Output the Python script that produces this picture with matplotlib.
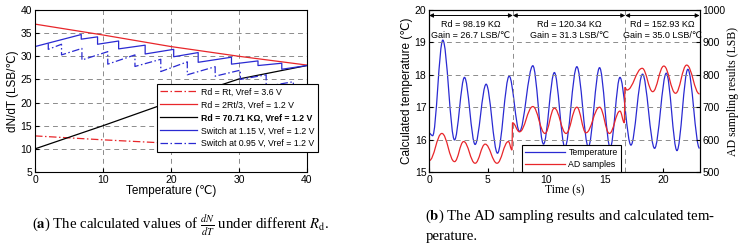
import matplotlib
matplotlib.use('Agg')
import matplotlib.pyplot as plt
from matplotlib.path import Path
from matplotlib.patches import PathPatch
from matplotlib.lines import Line2D

plt.rcParams['font.family'] = ['Liberation Sans', 'DejaVu Sans']
plt.rcParams['mathtext.fontset'] = 'stix'

# ---- (a) dN/dT under different Rd ----
temp_pts = [0, 10, 20, 30, 40]
rd_rt_36 = [12.8, 11.95, 11.2, 10.5, 9.9]
rd_2rt3 = [36.95, 34.6, 32.1, 30.0, 28.1]
rd_7071 = [10.0, 15.0, 20.2, 25.1, 28.0]

sw115_x = [0, 6.8, 6.8, 9.2, 9.2, 12.3, 12.3, 16.2, 16.2, 20.4, 20.4, 24.0, 24.0,
           28.9, 28.9, 32.8, 32.8, 36.3, 36.3, 40]
sw115_y = [32.1, 34.7, 33.7, 34.2, 32.6, 33.3, 31.6, 32.4, 30.5, 31.5, 29.9, 30.8, 28.7,
           29.8, 28.3, 29.0, 28.0, 28.5, 27.2, 28.0]

sw095_x = [1.95, 1.95, 3.9, 3.9, 6.9, 6.9, 10.7, 10.7, 14.7, 14.7, 18.5, 18.5, 22.4, 22.4,
           26.5, 26.5, 30.2, 30.2, 34.0, 34.0, 38.0, 38.0, 40]
sw095_y = [32.8, 31.5, 32.6, 30.3, 31.7, 29.2, 31.0, 28.3, 30.3, 27.8, 29.35, 26.7, 28.8, 26.0,
           27.75, 25.7, 27.0, 25.0, 26.0, 23.5, 24.5, 22.5, 23.0]

legend_a = ['Rd = Rt, Vref = 3.6 V', 'Rd = 2Rt/3, Vref = 1.2 V', 'Rd = 70.71 K\u03a9, Vref = 1.2 V',
            'Switch at 1.15 V, Vref = 1.2 V', 'Switch at 0.95 V, Vref = 1.2 V']

# ---- (b) AD sampling results and calculated temperature ----
t_temp = [0.0, 0.3, 1.17, 2.17, 3.02, 3.93, 4.87, 5.84, 6.84, 7.72, 8.86, 9.77, 10.7, 11.6,
          12.62, 13.6, 14.56, 15.47, 16.3, 17.24, 18.23, 19.26, 20.26, 21.17, 22.1, 23.1]
calc_temp = [16.2, 16.12, 19.07, 15.99, 17.92, 15.85, 17.71, 15.58, 17.96, 16.25, 18.28, 15.86,
             18.07, 15.76, 18.25, 15.78, 18.22, 15.75, 17.92, 15.83, 18.02, 15.73, 18.05, 15.66,
             18.17, 15.73]

t_ad = [0.0, 1.09, 2.17, 2.95, 3.93, 4.79, 5.8, 6.77, 7.08, 7.12, 7.72, 8.86, 9.9, 10.7, 11.7,
        12.62, 13.4, 14.56, 15.4, 16.3, 16.68, 16.72, 16.9, 18.2, 19.1, 20.05, 21.05, 22.0, 23.1]
ad_samples = [535, 619, 532, 594, 527, 586, 527, 594, 568, 652, 624, 702, 619, 697, 619,
              700, 621, 700, 619, 688, 652, 761, 753, 820, 748, 827, 743, 830, 741]

switch_times = [0, 7.15, 16.75, 23.1]
rd_labels = ['Rd = 98.19 K\u03a9\nGain = 26.7 LSB/\u2103',
             'Rd = 120.34 K\u03a9\nGain = 31.3 LSB/\u2103',
             'Rd = 152.93 K\u03a9\nGain = 35.0 LSB/\u2103']

BLUE = '#2a2ad2'
RED = '#e8262a'
GRID = '#8c8c8c'
DASHDOT = (0, (6, 2, 1.2, 2))


def smooth_path(xs, ys, k=0.4):
    # bezier through the read extremes, horizontal tangents at each point
    verts = [(xs[0], ys[0])]
    codes = [Path.MOVETO]
    for i in range(1, len(xs)):
        dx = xs[i] - xs[i - 1]
        verts += [(xs[i - 1] + k * dx, ys[i - 1]), (xs[i] - k * dx, ys[i]), (xs[i], ys[i])]
        codes += [Path.CURVE4] * 3
    return Path(verts, codes)


fig = plt.figure(figsize=(7.45, 2.5), dpi=100)

# ----- left panel -----
ax = fig.add_axes([0.047, 0.312, 0.365, 0.648])
ax.plot(temp_pts, rd_rt_36, color=RED, lw=0.9, ls=DASHDOT)
ax.plot(temp_pts, rd_2rt3, color=RED, lw=0.9)
ax.plot(temp_pts, rd_7071, color='black', lw=0.9)
ax.plot(sw115_x, sw115_y, color=BLUE, lw=0.9)
ax.plot(sw095_x, sw095_y, color=BLUE, lw=0.9, ls=DASHDOT)
ax.set_xlim(0, 40)
ax.set_ylim(5, 40)
ax.set_xticks(range(0, 41, 10))
ax.set_yticks(range(5, 41, 5))
ax.grid(True, ls=(0, (5, 4)), color=GRID, lw=0.7)
ax.tick_params(direction='in', labelsize=7.5, length=3, pad=2)
ax.set_xlabel('Temperature (\u2103)', fontsize=8.5, labelpad=0)
ax.set_ylabel('dN/dT (LSB/\u2103)', fontsize=8.5, labelpad=1)

handles = [Line2D([], [], color=RED, lw=0.9, ls=DASHDOT),
           Line2D([], [], color=RED, lw=0.9),
           Line2D([], [], color='black', lw=0.9),
           Line2D([], [], color=BLUE, lw=0.9),
           Line2D([], [], color=BLUE, lw=0.9, ls=DASHDOT)]
leg = ax.legend(handles, legend_a, loc='upper left', bbox_to_anchor=(0.448, 0.543),
                borderaxespad=0, fontsize=6.3, handlelength=4.2, labelspacing=0.45,
                fancybox=False, framealpha=1, edgecolor='black', borderpad=0.4,
                handletextpad=0.4)
leg.get_frame().set_linewidth(0.8)
leg.get_texts()[2].set_fontweight('bold')

# ----- right panel -----
bx = fig.add_axes([0.576, 0.312, 0.363, 0.648])
bx2 = bx.twinx()
bx.add_patch(PathPatch(smooth_path(t_temp, calc_temp, 0.35), fill=False, edgecolor=BLUE, lw=0.9))
bx2.add_patch(PathPatch(smooth_path(t_ad, ad_samples, 0.4), fill=False, edgecolor=RED, lw=0.9))
bx.set_xlim(0, 23.1)
bx.set_ylim(15, 20)
bx2.set_ylim(500, 1000)
bx.set_xticks(range(0, 21, 5))
bx.set_yticks(range(15, 21))
bx2.set_yticks(range(500, 1001, 100))
bx.yaxis.grid(True, ls=(0, (5, 4)), color=GRID, lw=0.7)
for xs in switch_times[1:-1]:
    bx.axvline(xs, ls=(0, (5, 4)), color=GRID, lw=0.7)
bx.tick_params(direction='in', labelsize=7.5, length=3, pad=2)
bx2.tick_params(direction='in', labelsize=7.5, length=3, pad=2)
bx.set_xlabel('Time (s)', family='Liberation Serif', fontsize=8.5, labelpad=0)
bx.set_ylabel('Calculated temperature (\u2103)', fontsize=8.5, labelpad=1)
bx2.set_ylabel('AD sampling results (LSB)', family='Liberation Serif', fontsize=8.5, labelpad=1)

for i in range(3):
    x0, x1 = switch_times[i], switch_times[i + 1]
    bx.annotate('', xy=(x1, 19.83), xytext=(x0, 19.83),
                arrowprops=dict(arrowstyle='<|-|>', color='black', lw=0.7,
                                mutation_scale=6, shrinkA=0, shrinkB=0))
    bx.text((x0 + x1) / 2, 19.38, rd_labels[i], ha='center', va='center', fontsize=6.5,
            linespacing=1.35)

bh = [Line2D([], [], color=BLUE, lw=0.9), Line2D([], [], color=RED, lw=0.9)]
leg2 = bx.legend(bh, ['Temperature', 'AD samples'], loc='lower left',
                 bbox_to_anchor=(0.342, 0.0), borderaxespad=0, fontsize=6.3,
                 handlelength=4.6, labelspacing=0.3, fancybox=False, framealpha=1,
                 edgecolor='black', borderpad=0.35, handletextpad=0.4)
leg2.get_frame().set_linewidth(0.8)

# captions
fig.text(0.242, 0.1, r'($\mathbf{a}$) The calculated values of $\frac{dN}{dT}$ under different $R_{\mathrm{d}}$.',
         ha='center', va='center', fontsize=10.6, family='Liberation Serif')
fig.text(0.571, 0.133, r'($\mathbf{b}$) The AD sampling results and calculated tem-',
         ha='left', va='center', fontsize=10.6, family='Liberation Serif')
fig.text(0.571, 0.053, 'perature.', ha='left', va='center', fontsize=10.6,
         family='Liberation Serif')

fig.savefig('out.png', dpi=100)
